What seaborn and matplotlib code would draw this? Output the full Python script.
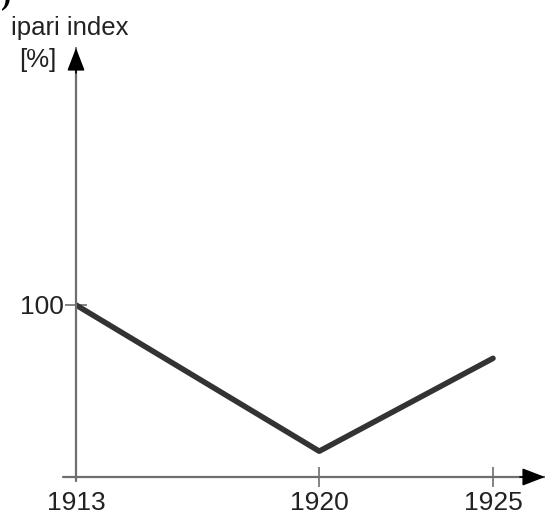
import numpy as np
import pandas as pd
import matplotlib
matplotlib.use("Agg")
import matplotlib.pyplot as plt
import seaborn as sns

# data (y axis starts at 0)
years = [1913, 1920, 1925]
ipari_index = [100, 15, 69]
x_ticks = [1913, 1920, 1925]
y_ticks = [100]
y_label_top = "ipari index"
y_label_unit = "[%]"

W, H = 545, 514
AXIS_GRAY = '#6e6e6e'
LINE_COLOR = '#333333'
TEXT_COLOR = '#222222'

sns.set_theme(style="white")
plt.rcParams['font.family'] = ['Liberation Sans', 'DejaVu Sans']

fig = plt.figure(figsize=(W / 100, H / 100), dpi=100)
fig.patch.set_facecolor('white')

# axes box in pixels: origin at (76, 477), top of y arrow at 48, right edge 545
left_px, bottom_px, top_px = 76, 514 - 477, 514 - 48
ax = fig.add_axes([left_px / W, bottom_px / H, (W - left_px) / W, (top_px - bottom_px) / H])

px_per_year = (493 - 76) / (1925 - 1913)
px_per_unit = (477 - 305) / 100
ax.set_xlim(1913, 1913 + (W - left_px) / px_per_year)
ax.set_ylim(0, (top_px - bottom_px) / px_per_unit)

df = pd.DataFrame({'ev': years, 'index': ipari_index})
sns.lineplot(data=df, x='ev', y='index', ax=ax, color=LINE_COLOR, linewidth=4)
ax.set_xlabel('')
ax.set_ylabel('')

for s in ax.spines.values():
    s.set_visible(False)

# axis lines with arrow heads
ax_w = W - left_px
ax_h = top_px - bottom_px
ax.plot([-13 / ax_w, 1], [0, 0], transform=ax.transAxes, color=AXIS_GRAY, lw=1.6, clip_on=False)
ax.plot([0, 0], [-4 / ax_h, 1], transform=ax.transAxes, color=AXIS_GRAY, lw=1.6, clip_on=False)
arrow = dict(arrowstyle='-|>,head_length=0.7,head_width=0.27', color='black', lw=1.2,
             mutation_scale=20, shrinkA=0, shrinkB=0)
ax.annotate('', xy=(1, 0), xytext=(1 - 25 / ax_w, 0), xycoords='axes fraction', arrowprops=arrow,
            annotation_clip=False)
ax.annotate('', xy=(0, 1), xytext=(0, 1 - 25 / ax_h), xycoords='axes fraction', arrowprops=arrow,
            annotation_clip=False)

ax.set_xticks(x_ticks)
ax.set_xticklabels([str(y) for y in x_ticks])
ax.set_yticks(y_ticks)
ax.set_yticklabels([str(v) for v in y_ticks])
ax.tick_params(axis='x', direction='inout', length=14, width=1.2, color=AXIS_GRAY,
               labelsize=19, labelcolor=TEXT_COLOR, pad=3, bottom=True)
ax.tick_params(axis='y', direction='inout', length=16, width=1.2, color=AXIS_GRAY,
               labelsize=19, labelcolor=TEXT_COLOR, pad=1, left=True)
ax.xaxis.get_major_ticks()[0].tick1line.set_visible(False)
ax.grid(False)

fig.text(70 / W, 1 - 28 / H, y_label_top, ha='center', va='center', fontsize=18.5, color=TEXT_COLOR)
fig.text(38 / W, 1 - 60 / H, y_label_unit, ha='center', va='center', fontsize=18.5, color=TEXT_COLOR)
# cropped bracket at the top left corner, as in the reference
fig.text(6 / W, 1 + 4 / H, ')', ha='center', va='center', fontsize=22, color='black',
         family=['Liberation Serif', 'DejaVu Serif'], fontweight='bold')

fig.savefig('out.png', dpi=100, facecolor='white')
